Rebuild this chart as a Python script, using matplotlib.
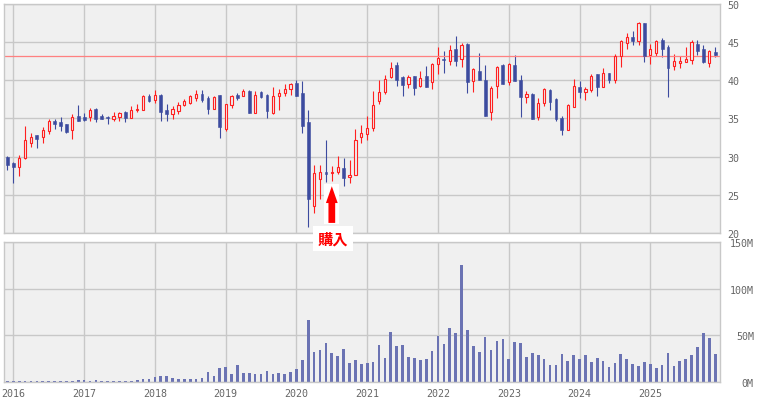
import numpy as np
import pandas as pd
import matplotlib
matplotlib.use('Agg')
import matplotlib.pyplot as plt
from matplotlib.patches import FancyArrow, Rectangle

# monthly OHLC, Dec 2015 .. Dec 2025
opens = [29.9, 29.17, 28.7, 29.8, 31.83, 32.8, 32.53, 33.3, 34.67, 34.54,
         34.24, 33.45, 35.33, 35.2, 35.2, 36.2, 35.3, 35.2, 34.98, 35.2,
         35.8, 35.09, 36.1, 36.15, 37.86, 37.35, 38.12, 36.07, 35.6, 35.98,
         36.75, 37.0, 37.6, 38.25, 37.6, 36.28, 38.12, 33.63, 36.75, 38.0,
         37.96, 38.6, 35.7, 38.43, 38.09, 35.7, 37.9, 38.3, 38.83, 39.65,
         38.35, 34.57, 23.5, 27.0, 28.04, 27.9, 28.0, 28.48, 27.35, 27.65,
         32.6, 33.0, 33.72, 37.27, 38.44, 40.35, 41.99, 40.35, 39.48, 40.48,
         39.22, 40.56, 39.7, 42.08, 42.76, 42.47, 44.03, 42.73, 44.72, 39.87,
         41.2, 40.04, 35.84, 39.22, 41.99, 39.74, 41.99, 40.04, 37.79, 38.22,
         35.15, 37.0, 38.74, 37.58, 35.07, 33.46, 36.5, 39.13, 38.4, 38.66,
         40.77, 39.05, 40.9, 40.02, 43.15, 44.87, 45.66, 45.09, 47.42, 43.24,
         43.55, 45.3, 44.38, 41.83, 42.22, 42.31, 42.58, 44.78, 44.07, 42.18,
         43.72]
highs = [30.04, 29.3, 30.2, 34.0, 33.1, 32.8, 33.9, 34.9, 34.9, 35.2,
         34.24, 35.6, 36.77, 35.7, 36.3, 36.3, 35.6, 35.3, 35.8, 35.85,
         35.98, 36.58, 36.9, 38.03, 38.25, 38.76, 38.25, 36.9, 36.67, 37.14,
         37.48, 38.03, 38.76, 38.76, 37.9, 37.9, 38.12, 36.9, 38.12, 38.3,
         38.87, 38.7, 38.57, 38.57, 38.2, 39.13, 38.87, 39.48, 39.6, 39.96,
         39.9, 36.13, 28.96, 28.9, 32.2, 28.83, 30.13, 29.78, 29.6, 33.65,
         34.15, 35.37, 38.57, 40.0, 40.7, 42.4, 42.42, 40.6, 40.7, 40.6,
         41.17, 41.86, 42.3, 44.29, 43.77, 44.6, 45.76, 44.8, 44.85, 41.65,
         43.55, 41.99, 39.22, 41.82, 42.16, 42.3, 43.3, 40.7, 38.6, 38.3,
         37.7, 39.0, 38.83, 37.7, 35.28, 36.93, 40.17, 39.83, 39.13, 40.8,
         40.8, 41.65, 40.9, 43.46, 45.3, 46.23, 46.37, 47.55, 47.42, 44.74,
         45.3, 45.57, 44.56, 43.4, 43.1, 44.38, 45.3, 45.3, 44.56, 43.99,
         44.38]
lows = [28.3, 26.6, 27.4, 29.7, 31.27, 31.1, 31.75, 33.0, 33.6, 33.36,
        33.14, 32.36, 34.59, 34.6, 34.6, 34.5, 34.85, 34.2, 34.67, 34.6,
        34.57, 35.09, 35.8, 36.15, 37.1, 37.05, 34.7, 34.7, 34.87, 35.6,
        36.67, 36.88, 37.3, 37.18, 35.56, 36.2, 32.4, 33.4, 36.3, 37.4,
        37.87, 35.7, 35.7, 37.7, 35.0, 35.57, 36.04, 37.9, 38.0, 37.87,
        33.1, 20.8, 22.57, 24.4, 26.65, 26.74, 27.7, 26.13, 26.48, 27.6,
        31.8, 32.16, 33.38, 36.88, 38.14, 40.26, 39.18, 37.92, 39.0, 38.05,
        39.13, 39.05, 38.83, 40.78, 40.9, 41.99, 41.86, 41.77, 38.3, 38.4,
        40.04, 35.28, 34.76, 37.62, 39.44, 39.3, 39.83, 35.15, 37.0, 34.9,
        34.76, 36.58, 36.15, 34.68, 32.8, 33.46, 36.5, 37.6, 37.4, 38.44,
        37.9, 39.05, 39.58, 39.67, 41.78, 44.03, 44.65, 44.56, 42.31, 42.1,
        43.1, 43.02, 37.78, 41.34, 41.6, 42.31, 42.1, 43.28, 42.18, 41.78,
        42.97]
closes = [28.95, 28.69, 29.78, 32.14, 32.53, 32.36, 33.45, 34.67, 34.3, 34.06,
          33.23, 35.15, 34.59, 34.8, 36.1, 34.98, 34.85, 35.07, 35.33, 35.68,
          35.09, 36.07, 36.24, 37.86, 37.22, 38.08, 35.85, 35.6, 36.28, 36.8,
          37.3, 37.86, 38.25, 37.4, 36.24, 37.78, 33.9, 36.84, 37.86, 37.6,
          38.57, 35.7, 38.04, 37.78, 35.9, 37.9, 38.35, 38.83, 39.48, 37.87,
          33.96, 24.4, 27.87, 28.0, 27.7, 28.0, 28.57, 27.17, 27.65, 32.2,
          33.03, 33.68, 36.75, 38.44, 40.13, 41.56, 40.0, 39.3, 40.39, 38.96,
          40.22, 39.05, 42.12, 42.86, 42.65, 43.9, 42.55, 44.59, 39.7, 41.43,
          40.04, 35.28, 38.96, 41.69, 39.44, 42.16, 39.83, 37.75, 38.22, 34.9,
          37.0, 38.87, 37.1, 34.9, 33.46, 36.75, 39.22, 38.4, 38.83, 40.6,
          39.14, 40.9, 40.02, 43.15, 45.18, 45.66, 45.09, 47.42, 43.1, 44.07,
          45.18, 44.03, 41.6, 42.49, 42.49, 42.75, 45.04, 43.77, 42.4, 43.85,
          43.24]
# volume in millions
volumes = [1.2, 1.2, 1.2, 1.2, 1.2, 1.2, 1.2, 1.2, 1.2, 1.2,
           1.2, 1.2, 2.5, 2.5, 1.2, 2.5, 1.2, 1.2, 1.2, 1.2,
           1.2, 1.2, 2, 3.5, 3.5, 5.7, 6.4, 6.4, 4.3, 3.2,
           3.2, 3.2, 3.2, 4.3, 10.7, 6.4, 15, 16, 8.9, 18.2,
           9.6, 9.6, 8.6, 8.6, 11.8, 8.6, 9.6, 8.6, 10.7, 13.9,
           23.6, 66.4, 32.1, 34.3, 41.4, 31.1, 27.9, 35.4, 20.7, 23.6,
           19.6, 20.7, 21.4, 39.6, 25.7, 53.6, 38.6, 39.6, 26.8, 25.7,
           23.6, 24.6, 33.2, 49.3, 40.7, 57.9, 52.5, 125.4, 55.7, 38.6,
           32.1, 48.2, 34.3, 43.9, 46.1, 24.6, 42.9, 41.8, 26.8, 31.1,
           28.9, 24.6, 18.2, 18.2, 30, 22.5, 28.9, 24.6, 28.9, 21.4,
           25.7, 22.5, 16.1, 20.4, 30, 24.6, 19.3, 17.1, 21.4, 19.3,
           15, 18.2, 31.1, 17.1, 22.5, 24.6, 28.9, 37.5, 52.5, 47.1,
           30]

years = ['2016', '2017', '2018', '2019', '2020', '2021', '2022', '2023', '2024', '2025']
price_ticks = [20, 25, 30, 35, 40, 45, 50]
vol_ticks = [0, 50, 100, 150]
buy_price = 43.2
buy_month = 55   # Jul 2020
buy_label = '購入'

UP = '#ff2020'
DOWN = '#3c4b9f'
VOLC = '#6b73b3'
BG = '#f0f0f0'
GRID = '#c8c8c8'
TXT = '#666666'

months = pd.date_range('2015-12-01', periods=len(opens), freq='MS')
x = np.arange(len(months))
year_pos = x[months.month == 1]

o = np.array(opens); h = np.array(highs); l = np.array(lows); c = np.array(closes)
up = c >= o

W, H = 757, 402
fig = plt.figure(figsize=(W / 100, H / 100), dpi=100)
ax1 = fig.add_axes([4 / W, 1 - 234 / H, 716.5 / W, 229.3 / H])
ax2 = fig.add_axes([4 / W, 1 - 383 / H, 716.5 / W, 140 / H])
ax1.set_zorder(2)

for ax in (ax1, ax2):
    ax.set_facecolor(BG)
    ax.set_xlim(-0.58, 120.9)
    ax.set_xticks(year_pos)
    ax.grid(True, color=GRID, lw=1.0)
    ax.set_axisbelow(True)
    for sp in ax.spines.values():
        sp.set_color(GRID)
        sp.set_linewidth(1.0)
    ax.yaxis.tick_right()
    for lbl in ax.get_xticklabels() + ax.get_yticklabels():
        pass

# candles
ax1.vlines(x[up], l[up], h[up], color=UP, lw=0.8, zorder=2)
ax1.vlines(x[~up], l[~up], h[~up], color=DOWN, lw=0.8, zorder=2)
body = np.maximum(np.abs(c - o), 0.1)
bottom = np.minimum(o, c)
ax1.bar(x[up], body[up], bottom=bottom[up], width=0.38, facecolor=BG,
        edgecolor=UP, lw=0.8, zorder=3)
ax1.bar(x[~up], body[~up], bottom=bottom[~up], width=0.48, facecolor=DOWN,
        edgecolor=DOWN, lw=0.4, zorder=3)
ax1.axhline(buy_price, color='#ff8080', lw=0.9, zorder=2.5)

ax1.set_ylim(20, 50)
ax1.set_yticks(price_ticks)
ax1.set_xticklabels([])
ax1.tick_params(axis='x', length=0)
ax1.tick_params(axis='y', length=0, pad=5, labelsize=7.2, labelcolor=TXT)
for lbl in ax1.get_yticklabels():
    lbl.set_family('DejaVu Sans Mono')

# buy marker
ax1.add_patch(Rectangle((buy_month - 1.25, 21.2), 2.5, 5.25, facecolor='white',
                        edgecolor='none', zorder=4))
ax1.add_patch(FancyArrow(buy_month, 21.32, 0, 4.8, width=1.14, head_width=2.0,
                         head_length=2.2, length_includes_head=True,
                         color='#ff0000', lw=0, zorder=5))
ax1.text(buy_month + 0.2, 19.23, buy_label, ha='center', va='center',
         fontsize=11, fontweight='bold', color='#ff0000',
         family=['Noto Sans CJK JP', 'DejaVu Sans'], clip_on=False, zorder=10,
         bbox=dict(boxstyle='square,pad=0.3', facecolor='white', edgecolor='none'))

# volume
ax2.bar(x, volumes, width=0.45, color=VOLC, zorder=2)
ax2.set_ylim(0, 150)
ax2.set_yticks(vol_ticks)
ax2.set_yticklabels([f'{v}M' for v in vol_ticks])
ax2.set_xticklabels(years)
ax2.tick_params(axis='x', length=0, pad=4, labelsize=7.2, labelcolor=TXT)
ax2.tick_params(axis='y', length=0, pad=24, labelsize=7.2, labelcolor=TXT)
for lbl in ax2.get_yticklabels():
    lbl.set_family('DejaVu Sans Mono')
    lbl.set_ha('right')
for lbl in ax2.get_xticklabels():
    lbl.set_family('DejaVu Sans Mono')

fig.savefig('out.png', dpi=100, facecolor='white')
